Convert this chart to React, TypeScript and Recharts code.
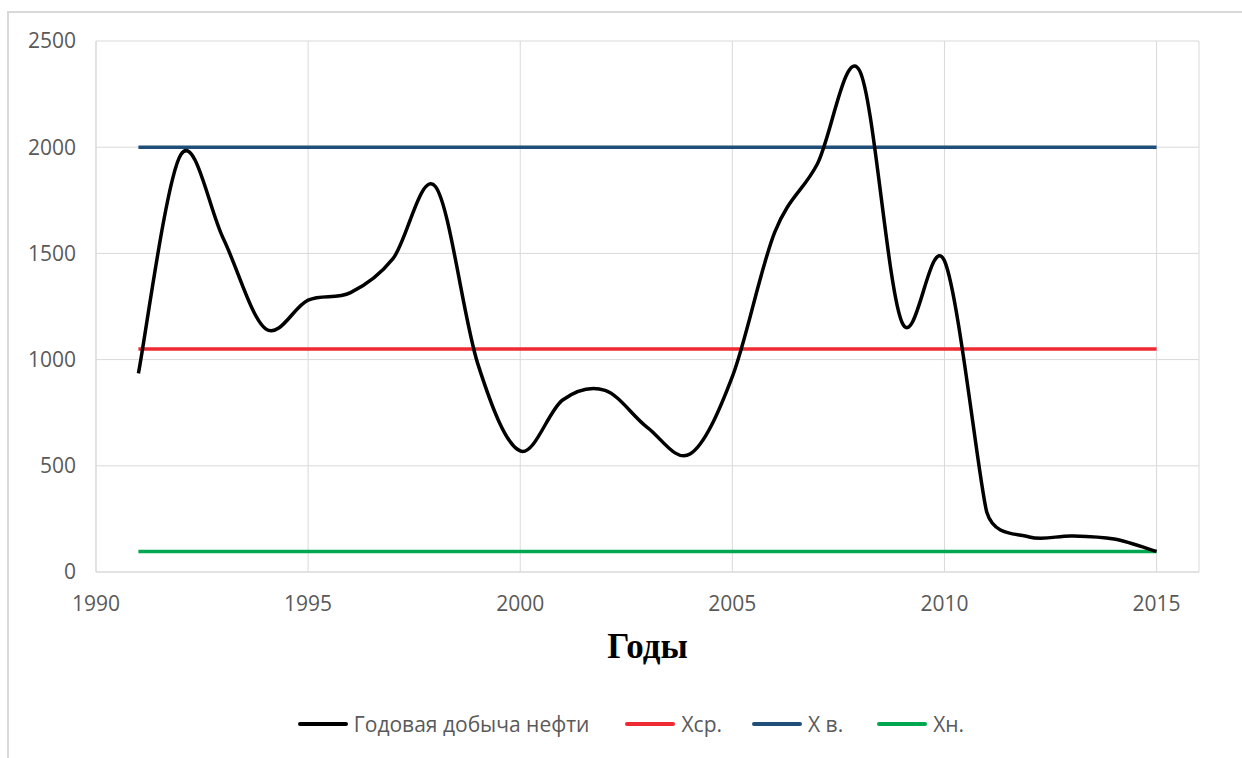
import React from 'react';
import { LineChart, Line, XAxis, YAxis, CartesianGrid, Legend, Label } from 'recharts';

const years = [1991, 1992, 1993, 1994, 1995, 1996, 1997, 1998, 1999, 2000, 2001, 2002, 2003, 2004, 2005, 2006, 2007, 2008, 2009, 2010, 2011, 2012, 2013, 2014, 2015];
const oilOutput = [935, 1965, 1570, 1145, 1280, 1315, 1475, 1815, 980, 570, 810, 855, 680, 555, 920, 1600, 1920, 2360, 1175, 1465, 280, 165, 170, 155, 97];
const xAvg = 1050;
const xUpper = 2000;
const xLower = 97;
const xTicks = [1990, 1995, 2000, 2005, 2010, 2015];
const yTicks = [0, 500, 1000, 1500, 2000, 2500];

const seriesNames = ['Годовая добыча нефти', 'Хср.', 'Х в.', 'Хн.'];
const seriesColors = ['#000000', '#EE2B33', '#1F4E79', '#00A650'];

const oilData = years.map((y, i) => ({ year: y, value: oilOutput[i] }));
const flat = (v: number) => [
  { year: years[0], value: v },
  { year: years[years.length - 1], value: v },
];

// Excel-like smoothing (Catmull-Rom 1/6 tangents, capped by half the shorter adjacent segment)
const excelCurve = (context: any) => {
  let pts: [number, number][] = [];
  const dist = (a: [number, number], b: [number, number]) => Math.hypot(a[0] - b[0], a[1] - b[1]);
  return {
    areaStart() {},
    areaEnd() {},
    lineStart() {
      pts = [];
    },
    point(x: number, y: number) {
      pts.push([+x, +y]);
    },
    lineEnd() {
      const n = pts.length;
      if (!n) return;
      const tans: [number, number][] = pts.map((p, i) => {
        const a = pts[i - 1] || p;
        const b = pts[i + 1] || p;
        let tx = (b[0] - a[0]) / 6;
        let ty = (b[1] - a[1]) / 6;
        const len = Math.hypot(tx, ty);
        const segs: number[] = [];
        if (i > 0) segs.push(dist(pts[i - 1], p));
        if (i < n - 1) segs.push(dist(p, pts[i + 1]));
        const cap = 0.5 * Math.min(...segs);
        if (len > cap && len > 0) {
          tx *= cap / len;
          ty *= cap / len;
        }
        return [tx, ty];
      });
      context.moveTo(pts[0][0], pts[0][1]);
      for (let i = 0; i < n - 1; i++) {
        const p1 = pts[i];
        const p2 = pts[i + 1];
        context.bezierCurveTo(
          p1[0] + tans[i][0],
          p1[1] + tans[i][1],
          p2[0] - tans[i + 1][0],
          p2[1] - tans[i + 1][1],
          p2[0],
          p2[1]
        );
      }
    },
  };
};

const FONT = '"Open Sans", "DejaVu Sans", sans-serif';

const LegendContent = () => {
  const gaps = [36, 30, 34];
  return (
    <div style={{ display: 'flex', justifyContent: 'center', alignItems: 'center', fontFamily: FONT, fontSize: 21, color: '#595959', paddingLeft: 20 }}>
      {seriesNames.map((n, i) => (
        <div key={n} style={{ display: 'flex', alignItems: 'center', marginRight: i < 3 ? gaps[i] : 0 }}>
          <div style={{ width: 50, height: 4, background: seriesColors[i], borderRadius: 2, marginRight: 6 }} />
          <span>{n}</span>
        </div>
      ))}
    </div>
  );
};

export default function App() {
  return (
    <div style={{ position: 'absolute', left: 0, top: 0, width: 1242, height: 758, background: '#fff' }}>
      <div style={{ position: 'absolute', left: 7, top: 11, right: 0, bottom: 0, borderLeft: '2px solid #D9D9D9', borderTop: '2px solid #D9D9D9' }} />
      <LineChart width={1242} height={758} margin={{ top: 41, right: 43, left: 0, bottom: 0 }} style={{ position: 'absolute', left: 0, top: 0 }}>
        <CartesianGrid stroke="#D9D9D9" strokeWidth={1} />
        <XAxis
          dataKey="year"
          type="number"
          domain={[1990, 2016]}
          ticks={xTicks}
          allowDataOverflow
          height={186}
          tickLine={false}
          tickSize={0}
          tickMargin={24}
          axisLine={{ stroke: '#D9D9D9' }}
          tick={{ fill: '#595959', fontSize: 21, fontFamily: FONT }}
        >
          <Label value="Годы" position="insideTop" offset={61} style={{ fontFamily: '"Liberation Serif", "Times New Roman", serif', fontWeight: 'bold', fontSize: 35, fill: '#000' }} />
        </XAxis>
        <YAxis
          type="number"
          domain={[0, 2500]}
          ticks={yTicks}
          width={96}
          tickLine={false}
          tickSize={0}
          tickMargin={20}
          axisLine={{ stroke: '#D9D9D9' }}
          tick={{ fill: '#595959', fontSize: 21, fontFamily: FONT }}
        />
        <Legend
          layout="horizontal"
          verticalAlign="middle"
          align="center"
          content={<LegendContent />}
          wrapperStyle={{ top: 710, left: 0, width: 1242 }}
        />
        <Line data={flat(xAvg)} dataKey="value" name={seriesNames[1]} stroke={seriesColors[1]} strokeWidth={3.5} dot={false} isAnimationActive={false} type="linear" />
        <Line data={flat(xUpper)} dataKey="value" name={seriesNames[2]} stroke={seriesColors[2]} strokeWidth={3.5} dot={false} isAnimationActive={false} type="linear" />
        <Line data={flat(xLower)} dataKey="value" name={seriesNames[3]} stroke={seriesColors[3]} strokeWidth={3.5} dot={false} isAnimationActive={false} type="linear" />
        <Line data={oilData} dataKey="value" name={seriesNames[0]} stroke={seriesColors[0]} strokeWidth={3.5} dot={false} isAnimationActive={false} type={excelCurve as any} />
      </LineChart>
    </div>
  );
}
